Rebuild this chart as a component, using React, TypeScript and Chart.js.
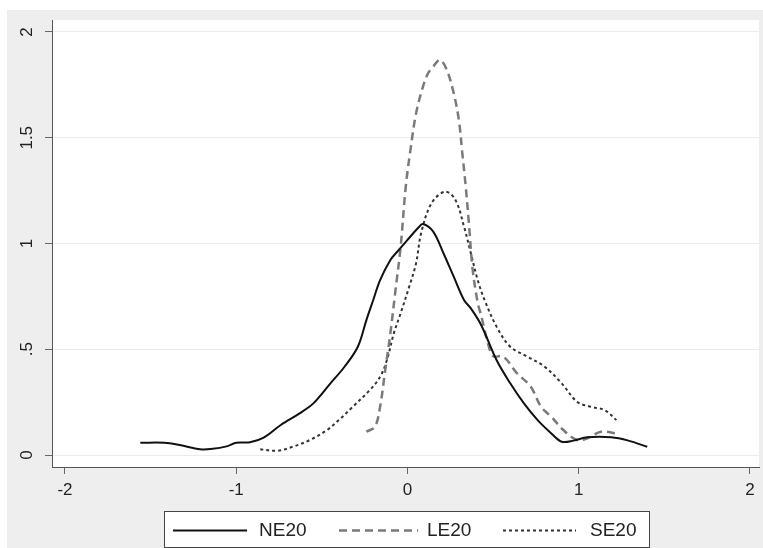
import React, { useEffect, useRef } from "react";
import { Chart, registerables } from "chart.js";

Chart.register(...registerables);

const X_TICKS = [-2, -1, 0, 1, 2];
const Y_TICKS = [0, 0.5, 1, 1.5, 2];
const Y_TICK_LABELS = ["0", ".5", "1", "1.5", "2"];
const SERIES_NAMES = ["NE20", "LE20", "SE20"];

const NE20_X = [-1.56, -1.42, -1.33, -1.21, -1.15, -1.05, -1.0, -0.92, -0.84, -0.74, -0.63, -0.55, -0.45, -0.37, -0.29, -0.24, -0.2, -0.16, -0.1, -0.06, 0.0, 0.06, 0.09, 0.15, 0.21, 0.27, 0.33, 0.37, 0.43, 0.52, 0.6, 0.68, 0.76, 0.84, 0.9, 0.97, 1.05, 1.19, 1.29, 1.4];
const NE20_Y = [0.058, 0.058, 0.047, 0.027, 0.028, 0.042, 0.058, 0.06, 0.082, 0.142, 0.197, 0.244, 0.339, 0.415, 0.512, 0.638, 0.733, 0.827, 0.922, 0.961, 1.017, 1.072, 1.092, 1.056, 0.954, 0.843, 0.733, 0.693, 0.615, 0.449, 0.339, 0.244, 0.165, 0.102, 0.063, 0.068, 0.084, 0.084, 0.068, 0.039];

const LE20_X = [-0.24, -0.19, -0.16, -0.13, -0.1, -0.07, -0.04, -0.01, 0.02, 0.05, 0.09, 0.12, 0.15, 0.19, 0.23, 0.27, 0.3, 0.32, 0.34, 0.36, 0.38, 0.41, 0.43, 0.47, 0.5, 0.56, 0.64, 0.72, 0.78, 0.84, 0.91, 0.99, 1.05, 1.13, 1.22];
const LE20_Y = [0.11, 0.134, 0.228, 0.402, 0.575, 0.78, 0.985, 1.27, 1.458, 1.615, 1.741, 1.805, 1.836, 1.868, 1.82, 1.71, 1.584, 1.427, 1.27, 1.08, 0.88, 0.72, 0.66, 0.528, 0.468, 0.465, 0.386, 0.323, 0.228, 0.181, 0.118, 0.071, 0.079, 0.11, 0.102];

const SE20_X = [-0.86, -0.76, -0.67, -0.57, -0.47, -0.39, -0.33, -0.22, -0.16, -0.12, -0.08, -0.04, 0.01, 0.05, 0.08, 0.14, 0.22, 0.28, 0.33, 0.37, 0.41, 0.45, 0.52, 0.6, 0.7, 0.8, 0.9, 0.99, 1.07, 1.15, 1.22];
const SE20_Y = [0.027, 0.02, 0.039, 0.071, 0.118, 0.173, 0.22, 0.307, 0.37, 0.449, 0.575, 0.67, 0.796, 0.906, 1.05, 1.19, 1.245, 1.206, 1.08, 0.954, 0.827, 0.733, 0.607, 0.512, 0.465, 0.418, 0.339, 0.252, 0.228, 0.213, 0.165];

const FONT = '"Liberation Sans", Arial, sans-serif';

const COLORS = ["#111111", "#7a7a7a", "#333333"];
const DASHES: number[][] = [[], [8, 5], [3, 3]];
const WIDTHS = [2, 2.5, 2];

function pts(xs: number[], ys: number[]) {
  return xs.map((x, i) => ({ x, y: ys[i] }));
}

const decorPlugin = {
  id: "decor",
  beforeDraw(chart: any) {
    const { ctx, chartArea } = chart;
    ctx.save();
    ctx.fillStyle = "#ffffff";
    ctx.fillRect(0, 0, chart.width, chart.height);
    ctx.fillStyle = "#eeeeee";
    ctx.fillRect(7, 10, chart.width - 7, chart.height - 10);
    ctx.fillStyle = "#ffffff";
    ctx.fillRect(chartArea.left, chartArea.top, chartArea.right - chartArea.left, chartArea.bottom - chartArea.top);
    ctx.restore();
  },
  afterDraw(chart: any) {
    const { ctx } = chart;
    const yScale = chart.scales.y;
    ctx.save();
    ctx.fillStyle = "#222222";
    ctx.font = `17px ${FONT}`;
    ctx.textAlign = "center";
    ctx.textBaseline = "middle";
    Y_TICKS.forEach((v, i) => {
      const py = yScale.getPixelForValue(v);
      ctx.save();
      ctx.translate(27, py);
      ctx.rotate(-Math.PI / 2);
      ctx.fillText(Y_TICK_LABELS[i], 0, 0);
      ctx.restore();
    });
    const bx = 164, by = 511, bw = 485, bh = 36;
    ctx.fillStyle = "#ffffff";
    ctx.fillRect(bx, by, bw, bh);
    ctx.strokeStyle = "#444444";
    ctx.lineWidth = 1;
    ctx.strokeRect(bx + 0.5, by + 0.5, bw, bh);
    const cy = 530.5;
    const items = [
      { x0: 173, x1: 247, tx: 259 },
      { x0: 339, x1: 418, tx: 427 },
      { x0: 503, x1: 576, tx: 590 },
    ];
    items.forEach((it, i) => {
      ctx.beginPath();
      ctx.strokeStyle = COLORS[i];
      ctx.lineWidth = WIDTHS[i];
      ctx.setLineDash(DASHES[i]);
      ctx.moveTo(it.x0, cy);
      ctx.lineTo(it.x1, cy);
      ctx.stroke();
      ctx.setLineDash([]);
      ctx.fillStyle = "#222222";
      ctx.font = `19px ${FONT}`;
      ctx.textAlign = "left";
      ctx.textBaseline = "middle";
      ctx.fillText(SERIES_NAMES[i], it.tx, cy);
    });
    ctx.restore();
  },
};

export default function App() {
  const ref = useRef<HTMLCanvasElement | null>(null);
  useEffect(() => {
    document.body.style.margin = "0";
    const canvas = ref.current;
    if (!canvas) return;
    const allX = [NE20_X, LE20_X, SE20_X];
    const allY = [NE20_Y, LE20_Y, SE20_Y];
    const chart = new Chart(canvas, {
      type: "line",
      data: {
        datasets: SERIES_NAMES.map((name, i) => ({
          label: name,
          data: pts(allX[i], allY[i]),
          borderColor: COLORS[i],
          borderWidth: WIDTHS[i],
          borderDash: DASHES[i],
          pointRadius: 0,
          tension: 0.35,
          fill: false,
        })),
      },
      options: {
        responsive: false,
        animation: false,
        devicePixelRatio: 1,
        layout: { padding: { left: 0, right: 4, top: 20, bottom: 0 } },
        plugins: { legend: { display: false }, tooltip: { enabled: false } },
        scales: {
          x: {
            type: "linear",
            min: -2.0759,
            max: 2.0526,
            afterBuildTicks: (s: any) => {
              s.ticks = X_TICKS.map((v) => ({ value: v }));
            },
            afterFit: (s: any) => {
              s.height = 81;
            },
            grid: { display: true, drawOnChartArea: false, drawTicks: true, tickLength: 7, tickColor: "#666666" },
            border: { display: true, color: "#555555", width: 1 },
            ticks: {
              color: "#222222",
              font: { family: FONT, size: 17 },
              padding: 6,
              maxRotation: 0,
              callback: (v: any) => String(v),
            },
          },
          y: {
            type: "linear",
            min: -0.0567,
            max: 2.0567,
            afterBuildTicks: (s: any) => {
              s.ticks = Y_TICKS.map((v) => ({ value: v }));
            },
            afterFit: (s: any) => {
              s.width = 52;
            },
            grid: { display: true, color: "#ebebeb", lineWidth: 1, drawTicks: true, tickLength: 7, tickColor: "#666666" },
            border: { display: true, color: "#555555", width: 1 },
            ticks: { display: false },
          },
        },
      },
      plugins: [decorPlugin],
    });
    return () => chart.destroy();
  }, []);
  return <canvas ref={ref} width={763} height={548} style={{ display: "block" }} />;
}
